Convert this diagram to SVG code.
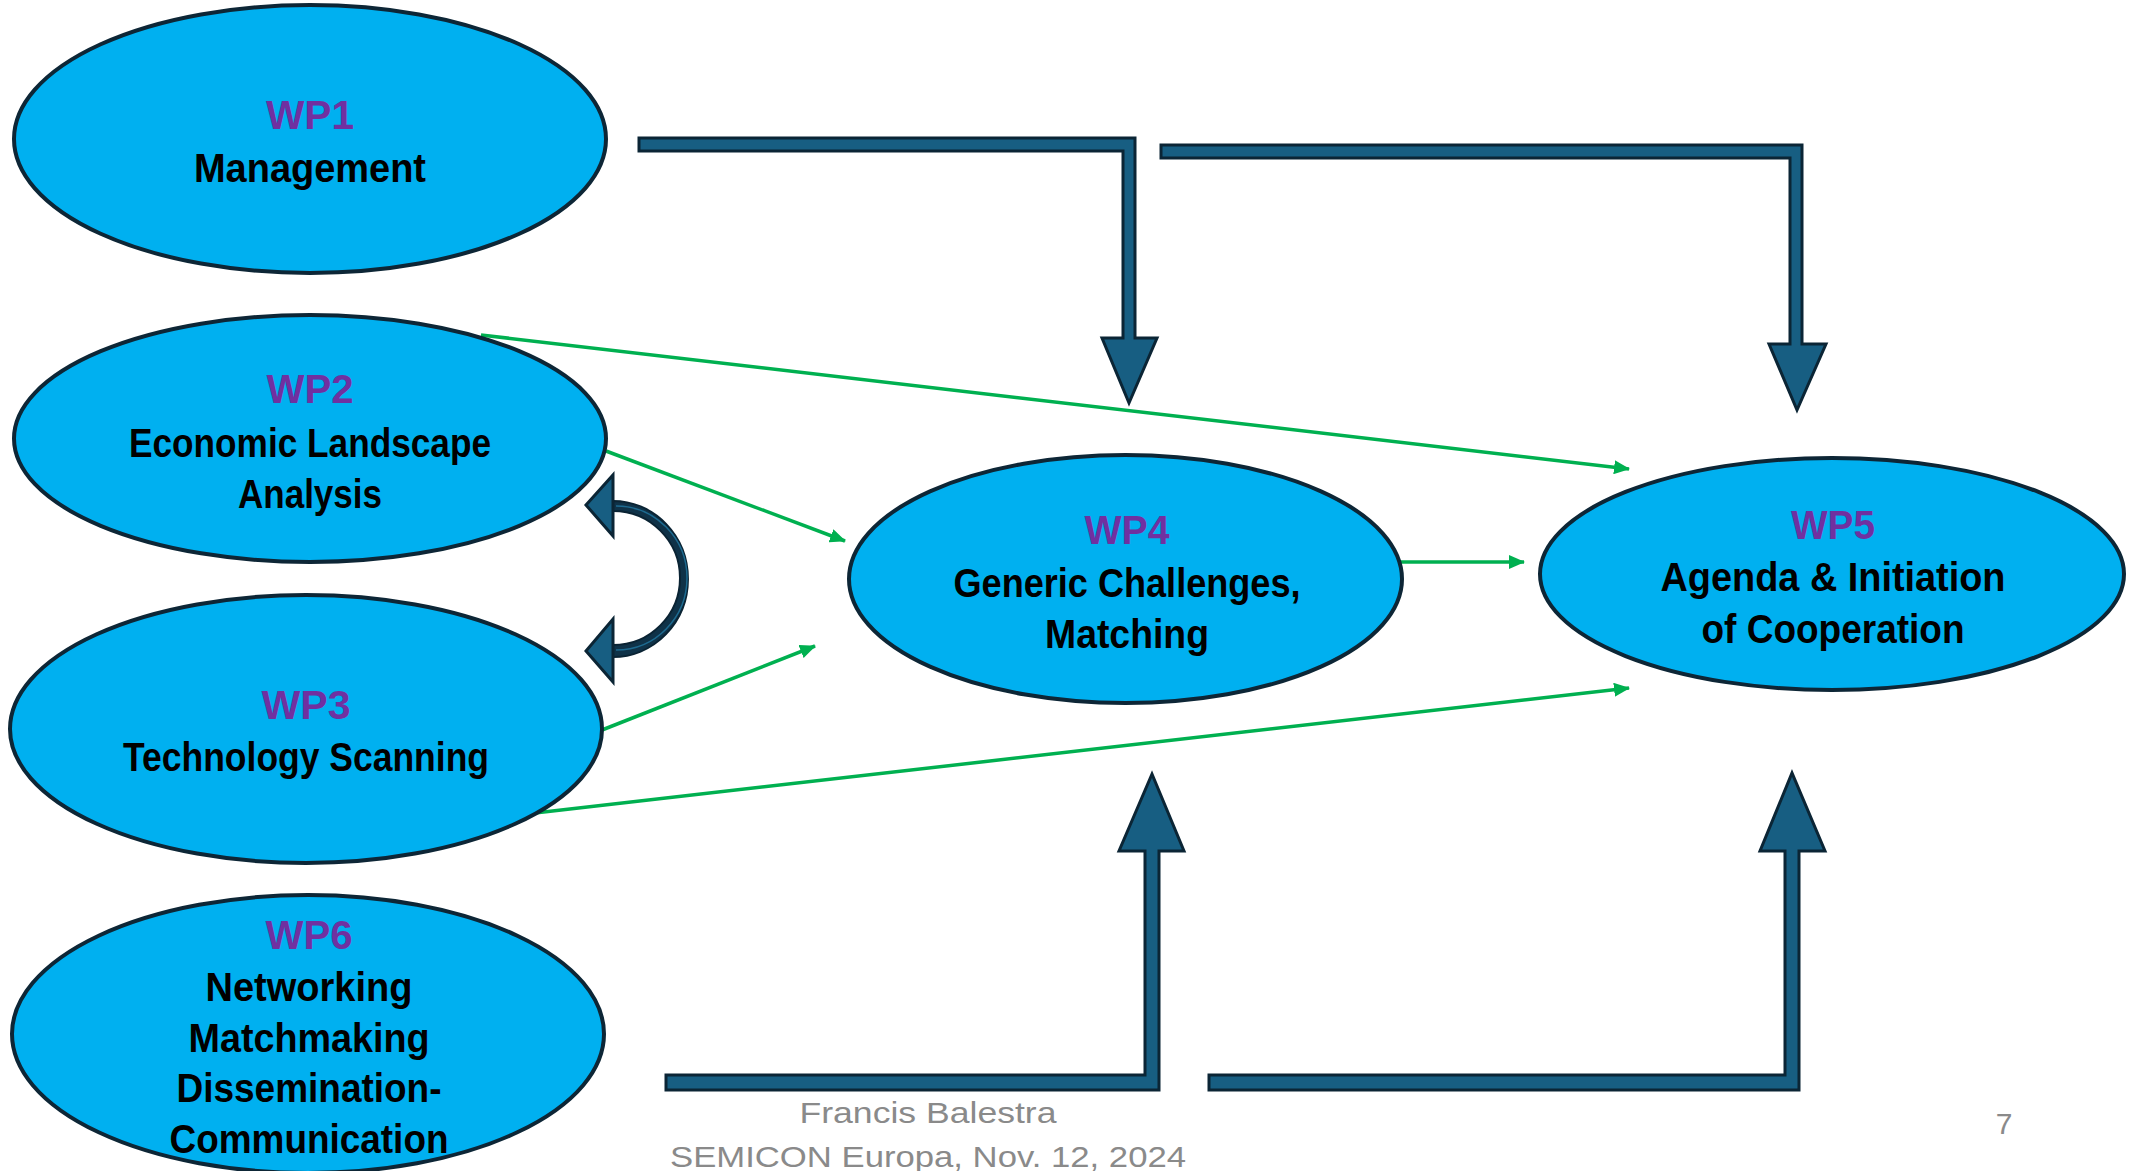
<svg xmlns="http://www.w3.org/2000/svg" width="2136" height="1171" viewBox="0 0 2136 1171">
<style>
.node ellipse{fill:#00b0f0;stroke:#0d2636;stroke-width:4}
.wp{font-family:"Liberation Sans",Arial,sans-serif;font-weight:bold;font-size:40px;fill:#7030a0;text-anchor:middle}
.tx{font-family:"Liberation Sans",Arial,sans-serif;font-weight:bold;font-size:41px;fill:#000;text-anchor:middle}
.big{fill:#175e82;stroke:#0b2535;stroke-width:3;stroke-linejoin:miter}
.band{fill:#0f3248;stroke:#0a2333;stroke-width:2}
.green{stroke:#00b050;stroke-width:3.5;fill:none;marker-end:url(#gh)}
.foot{font-family:"Liberation Sans",Arial,sans-serif;font-size:30px;fill:#8a8a8a;text-anchor:middle}
</style>
<defs>
<marker id="gh" markerUnits="userSpaceOnUse" markerWidth="16" markerHeight="14" refX="15" refY="7" orient="auto">
<path d="M0,0 L16,7 L0,14 Z" fill="#00b050"/>
</marker>
</defs>
<rect width="2136" height="1171" fill="#fff"/>
<g id="connectors">
<path class="big" d="M639,138 L1135,138 L1135,338 L1157,338 L1129,403 L1102,338 L1123,338 L1123,151 L639,151 Z"/>
<path class="big" d="M1161,145 L1802,145 L1802,344 L1826,344 L1797,410 L1769,344 L1790,344 L1790,158 L1161,158 Z"/>
<path class="big" d="M666,1090 L1159,1090 L1159,851 L1184,851 L1152,774 L1119,851 L1145,851 L1145,1075 L666,1075 Z"/>
<path class="big" d="M1209,1090 L1799,1090 L1799,851 L1825,851 L1792,773 L1760,851 L1785,851 L1785,1075 L1209,1075 Z"/>
<path class="band" d="M613,501 A75,78 0 0 1 613,657 L613,645 A67,67 0 0 0 613,511 Z"/>
<path d="M616,506 A71,72 0 0 1 616,650" fill="none" stroke="#1d6a90" stroke-width="1.5"/>
<path class="big" d="M613,475 L613,536 L586,505 Z"/>
<path class="big" d="M613,619 L613,682 L586,651 Z"/>
<line class="green" x1="481" y1="335" x2="1629" y2="469"/>
<line class="green" x1="606" y1="451" x2="845" y2="541"/>
<line class="green" x1="602" y1="730" x2="815" y2="646"/>
<line class="green" x1="535" y1="813" x2="1629" y2="688"/>
<line class="green" x1="1400" y1="562" x2="1524" y2="562"/>
</g>
<g id="wp1" class="node">
<ellipse cx="310" cy="139" rx="296" ry="134"/>
<text class="wp" x="310" y="129" textLength="88" lengthAdjust="spacingAndGlyphs">WP1</text>
<text class="tx" x="310" y="182" textLength="232" lengthAdjust="spacingAndGlyphs">Management</text>
</g>
<g id="wp2" class="node">
<ellipse cx="310" cy="438.5" rx="296" ry="123.5"/>
<text class="wp" x="310" y="403" textLength="87" lengthAdjust="spacingAndGlyphs">WP2</text>
<text class="tx" x="310" y="457" textLength="362" lengthAdjust="spacingAndGlyphs">Economic Landscape</text>
<text class="tx" x="310" y="508" textLength="144" lengthAdjust="spacingAndGlyphs">Analysis</text>
</g>
<g id="wp3" class="node">
<ellipse cx="306" cy="729" rx="296" ry="134"/>
<text class="wp" x="306" y="719" textLength="89" lengthAdjust="spacingAndGlyphs">WP3</text>
<text class="tx" x="306" y="771" textLength="366" lengthAdjust="spacingAndGlyphs">Technology Scanning</text>
</g>
<g id="wp4" class="node">
<ellipse cx="1125.5" cy="579" rx="276.5" ry="124"/>
<text class="wp" x="1127" y="544" textLength="85" lengthAdjust="spacingAndGlyphs">WP4</text>
<text class="tx" x="1127" y="597" textLength="347" lengthAdjust="spacingAndGlyphs">Generic Challenges,</text>
<text class="tx" x="1127" y="648" textLength="164" lengthAdjust="spacingAndGlyphs">Matching</text>
</g>
<g id="wp5" class="node">
<ellipse cx="1832" cy="574" rx="292" ry="116"/>
<text class="wp" x="1833" y="539" textLength="84" lengthAdjust="spacingAndGlyphs">WP5</text>
<text class="tx" x="1833" y="591" textLength="345" lengthAdjust="spacingAndGlyphs">Agenda &amp; Initiation</text>
<text class="tx" x="1833" y="643" textLength="263" lengthAdjust="spacingAndGlyphs">of Cooperation</text>
</g>
<g id="wp6" class="node">
<ellipse cx="308" cy="1034" rx="296" ry="139"/>
<text class="wp" x="309" y="949" textLength="87" lengthAdjust="spacingAndGlyphs">WP6</text>
<text class="tx" x="309" y="1001" textLength="207" lengthAdjust="spacingAndGlyphs">Networking</text>
<text class="tx" x="309" y="1052" textLength="241" lengthAdjust="spacingAndGlyphs">Matchmaking</text>
<text class="tx" x="309" y="1102" textLength="265" lengthAdjust="spacingAndGlyphs">Dissemination-</text>
<text class="tx" x="309" y="1153" textLength="279" lengthAdjust="spacingAndGlyphs">Communication</text>
</g>
<g id="footer">
<text class="foot" x="928" y="1123" textLength="257" lengthAdjust="spacingAndGlyphs">Francis Balestra</text>
<text class="foot" x="928" y="1167" textLength="516" lengthAdjust="spacingAndGlyphs">SEMICON Europa, Nov. 12, 2024</text>
<text class="foot" x="2004" y="1134" font-size="26">7</text>
</g>
</svg>
